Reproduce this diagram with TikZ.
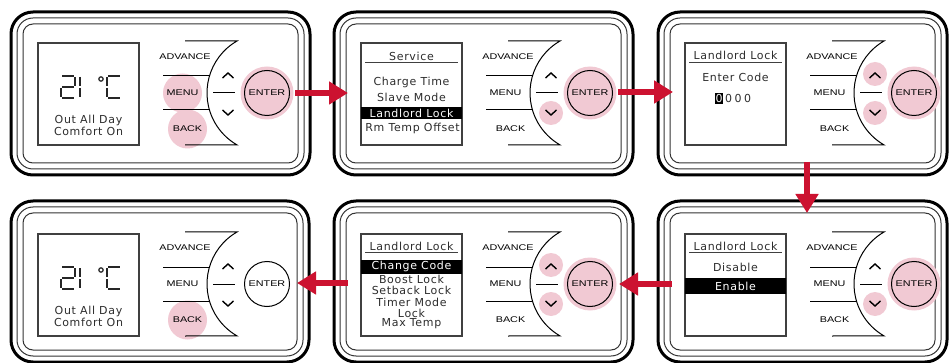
\documentclass[tikz,border=0pt]{standalone}
\usepackage{fontspec}
\usetikzlibrary{arrows.meta}
\newfontfamily\btnfont[FakeStretch=1.3]{Liberation Sans}
\newfontfamily\scrfont[LetterSpace=6]{DejaVu Sans}
\definecolor{arrred}{RGB}{204,18,48}
\definecolor{hlpink}{RGB}{241,201,211}
\definecolor{scrtxt}{RGB}{45,45,45}
\tikzset{
  frameouter/.style={line width=3pt, rounded corners=22pt},
  frameinner/.style={line width=1pt, draw=black!80},
  btnline/.style={line width=1pt},
  chev/.style={line width=1.4pt},
  btnlabel/.style={font=\btnfont\fontsize{8.3}{9}\selectfont, inner sep=0pt},
  scrlabel/.style={font=\scrfont\fontsize{11}{12}\selectfont, text=scrtxt, inner sep=0pt},
  barlabel/.style={font=\scrfont\fontsize{11}{12}\selectfont, text=white, inner sep=0pt},
  screenbox/.style={line width=1.2pt, draw=black!75},
  hl/.style={fill=hlpink, draw=none},
  seg/.style={line width=2pt, draw=black!85},
  redarrow/.style={draw=arrred, line width=6pt, -{Triangle[width=22pt,length=19pt]}},
}
\newcommand\pframe[3]{% y0, width, y1
  \draw[frameouter] (0,#1) rectangle (#2,#3);
  \draw[frameinner, rounded corners=16pt] (6,{#1+6}) rectangle ({#2-6},{#3-6});
  \draw[frameinner, rounded corners=10pt] (12,{#1+12}) rectangle ({#2-12},{#3-12});
}
\newcommand\pbuttons{%
  \draw[btnline] (174,29) -- (226,29) arc[start angle=240, end angle=120, radius=60] -- (174,133);
  \draw[btnline] (152,64) -- (198.5,64);
  \draw[btnline] (152,98) -- (198.5,98);
  \draw[btnline] (202,81) -- (224,81);
  \draw[chev] (211.5,66) -- (217,61) -- (222.5,66);
  \draw[chev] (211.5,98) -- (217,103) -- (222.5,98);
  \node[btnlabel] (adv) at (174,45) {ADVANCE};
  \node[btnlabel] (menu) at (171.5,81) {MENU};
  \node[btnlabel] (back) at (176.5,117) {BACK};
  \draw[btnline] (256,81) circle[radius=22.5];
  \node[btnlabel] (enter) at (256,81) {ENTER};
  \draw[screenbox] (27,31) rectangle (128,133);
}
\newcommand\ptemp{%
  \draw[seg] (51,64) -- (63,64);
  \draw[seg] (64,65) -- (64,74);
  \draw[seg] (51,75) -- (63,75);
  \draw[seg] (50,76) -- (50,85);
  \draw[seg] (51,86) -- (63,86);
  \draw[seg] (69,65) -- (69,74);
  \draw[seg] (69,76) -- (69,85);
  \draw[line width=1.2pt, draw=black!85] (90,67) circle[radius=2.2];
  \draw[seg] (97,64) -- (109,64);
  \draw[seg] (96,65) -- (96,74);
  \draw[seg] (96,76) -- (96,85);
  \draw[seg] (97,86) -- (109,86);
  \node[scrlabel] (l1) at (77.5,108) {Out All Day};
  \node[scrlabel] (l2) at (77.5,119) {Comfort On};
}
\begin{document}
\begin{tikzpicture}[x=1pt, y=-1pt]
\useasboundingbox (0,0) rectangle (952,363);
\fill[white] (0,0) rectangle (952,363);

% Panel 1
\begin{scope}[shift={(11,12)}, name prefix=p1-]
  \pframe{0}{299}{163}
  \fill[hl] (256,81) circle[radius=26.5];
  \fill[hl] (171.5,81) circle[radius=19.5];
  \fill[hl] (176.5,117) circle[radius=19.5];
  \pbuttons
  \ptemp
\end{scope}

% Panel 2
\begin{scope}[shift={(334,12)}, name prefix=p2-]
  \pframe{0}{299}{163}
  \fill[hl] (256,81) circle[radius=26.5];
  \fill[hl] (217,101) circle[radius=12];
  \pbuttons
  \node[scrlabel] (h) at (77.5,44) {Service};
  \draw[line width=1pt, draw=black!75] (31,51) -- (124,51);
  \node[scrlabel] (i1) at (77.5,70) {Charge Time};
  \node[scrlabel] (i2) at (77.5,85) {Slave Mode};
  \fill[black] (27,95) rectangle (128,107);
  \node[barlabel] (i3) at (77.5,101) {Landlord Lock};
  \node[scrlabel] (i4) at (78.5,116) {Rm Temp Offset};
\end{scope}

% Panel 3
\begin{scope}[shift={(658,12)}, name prefix=p3-]
  \pframe{0}{289}{163}
  \fill[hl] (256,81) circle[radius=26.5];
  \fill[hl] (217,62) circle[radius=12];
  \fill[hl] (217,101) circle[radius=12];
  \pbuttons
  \node[scrlabel] (h) at (77.5,43) {Landlord Lock};
  \draw[line width=1pt, draw=black!75] (31,51) -- (124,51);
  \node[scrlabel] (i1) at (77.5,65) {Enter Code};
  \node[barlabel, fill=black, minimum width=8pt, minimum height=11pt] (d1) at (61,86.5) {0};
  \node[scrlabel] (d2) at (70.5,86.5) {0};
  \node[scrlabel] (d3) at (80,86.5) {0};
  \node[scrlabel] (d4) at (89.5,86.5) {0};
\end{scope}

% Panel 4
\begin{scope}[shift={(11,203)}, name prefix=p4-]
  \pframe{-2}{298}{159}
  \fill[hl] (176.5,117) circle[radius=19.5];
  \pbuttons
  \ptemp
\end{scope}

% Panel 5
\begin{scope}[shift={(334,203)}, name prefix=p5-]
  \pframe{-2}{299}{159}
  \fill[hl] (256,81) circle[radius=26.5];
  \fill[hl] (217,62) circle[radius=12];
  \fill[hl] (217,101) circle[radius=12];
  \pbuttons
  \node[scrlabel] (h) at (77.5,43) {Landlord Lock};
  \draw[line width=1pt, draw=black!75] (31,49) -- (124,49);
  \node[scrlabel] (i2) at (77.5,76) {Boost Lock};
  \fill[black] (27,57) rectangle (128,71);
  \node[barlabel] (i1) at (77.5,63.5) {Change Code};
  \node[scrlabel] (i3) at (77.5,87.5) {Setback Lock};
  \node[scrlabel] (i4) at (77.5,99) {Timer Mode};
  \node[scrlabel] (i5) at (77.5,110) {Lock};
  \node[scrlabel] (i6) at (77.5,121) {Max Temp};
\end{scope}

% Panel 6
\begin{scope}[shift={(658,203)}, name prefix=p6-]
  \pframe{-2}{289}{159}
  \fill[hl] (256,81) circle[radius=26.5];
  \fill[hl] (217,101) circle[radius=12];
  \pbuttons
  \node[scrlabel] (h) at (77.5,43) {Landlord Lock};
  \draw[line width=1pt, draw=black!75] (31,49) -- (124,49);
  \node[scrlabel] (i1) at (77.5,64) {Disable};
  \fill[black] (27,75) rectangle (128,91);
  \node[barlabel] (i2) at (77.5,83) {Enable};
\end{scope}

% Arrows
\coordinate (a1s) at (295,93);
\coordinate (a1e) at (348,93);
\coordinate (a2s) at (618,92);
\coordinate (a2e) at (673,92);
\coordinate (a3s) at (807,162);
\coordinate (a3e) at (807,213);
\coordinate (a4s) at (672,284);
\coordinate (a4e) at (619,284);
\coordinate (a5s) at (348,283);
\coordinate (a5e) at (297,283);
\draw[redarrow] (a1s) -- (a1e);
\draw[redarrow] (a2s) -- (a2e);
\draw[redarrow] (a3s) -- (a3e);
\draw[redarrow] (a4s) -- (a4e);
\draw[redarrow] (a5s) -- (a5e);
\end{tikzpicture}
\end{document}
